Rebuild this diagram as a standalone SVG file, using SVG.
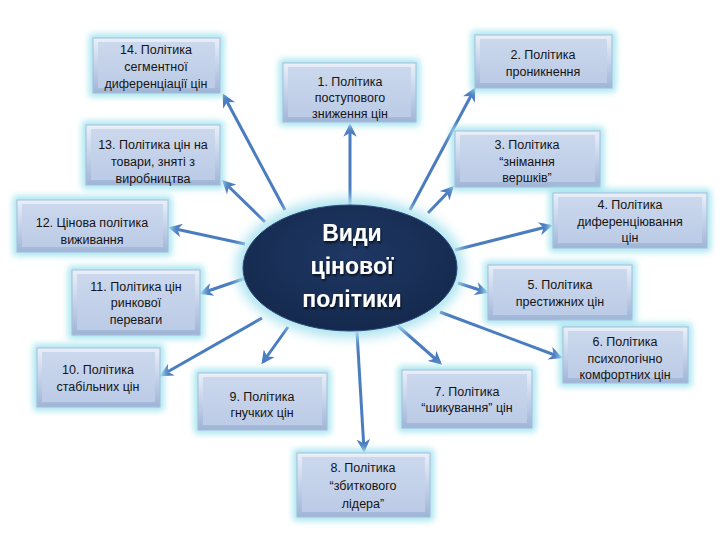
<svg xmlns="http://www.w3.org/2000/svg" width="720" height="540" viewBox="0 0 720 540">
<defs>
<style>
.glow{fill:#a8e6f0;filter:url(#blur)}
.box{fill:url(#bg);stroke:#a9bcd9;stroke-width:1}
.inner{fill:url(#ig)}
.t{font-family:"Liberation Sans","Noto Sans",sans-serif;font-size:12.5px;fill:#141414;text-anchor:middle}
.c{font-family:"Liberation Sans","Noto Sans",sans-serif;font-size:23px;font-weight:bold;fill:#ffffff;text-anchor:middle;filter:url(#ts)}
.ar{stroke:#4a7cc0;stroke-width:3;fill:none;marker-end:url(#ah)}
</style>
<filter id="blur" x="-30%" y="-30%" width="160%" height="160%"><feGaussianBlur stdDeviation="3"/></filter>
<filter id="eblur" x="-30%" y="-30%" width="160%" height="160%"><feGaussianBlur stdDeviation="6"/></filter>
<filter id="ts" x="-20%" y="-20%" width="140%" height="160%"><feDropShadow dx="1" dy="2" stdDeviation="1" flood-color="#000000" flood-opacity="0.7"/></filter>
<linearGradient id="bg" x1="0" y1="0" x2="0" y2="1"><stop offset="0" stop-color="#eaf0f8"/><stop offset="0.5" stop-color="#c4d3ea"/><stop offset="1" stop-color="#9fb4d6"/></linearGradient>
<linearGradient id="ig" x1="0" y1="0" x2="0" y2="1"><stop offset="0" stop-color="#cbd8ed"/><stop offset="1" stop-color="#bccbe6"/></linearGradient>
<radialGradient id="eg" cx="0.5" cy="0.4" r="0.6"><stop offset="0" stop-color="#1e3864"/><stop offset="1" stop-color="#15294d"/></radialGradient>
<marker id="ah" viewBox="0 0 10 10" refX="8" refY="5" markerWidth="4.5" markerHeight="4.5" orient="auto" markerUnits="strokeWidth"><path d="M0,0 L10,5 L0,10 L3,5 z" fill="#4a7cc0"/></marker>
</defs>
<rect width="720" height="540" fill="#ffffff"/>

<g id="connectors">
<line class="ar" x1="285" y1="210" x2="224" y2="96"/>
<line class="ar" x1="350" y1="205" x2="350" y2="126"/>
<line class="ar" x1="410" y1="210" x2="474" y2="90"/>
<line class="ar" x1="265" y1="222" x2="224" y2="182"/>
<line class="ar" x1="428" y1="213" x2="452" y2="188"/>
<line class="ar" x1="455" y1="250" x2="550" y2="226"/>
<line class="ar" x1="245" y1="244" x2="171" y2="228"/>
<line class="ar" x1="458" y1="283" x2="486" y2="292"/>
<line class="ar" x1="246" y1="278" x2="202" y2="293"/>
<line class="ar" x1="440" y1="312" x2="560" y2="357"/>
<line class="ar" x1="262" y1="318" x2="162" y2="375"/>
<line class="ar" x1="288" y1="327" x2="263" y2="362"/>
<line class="ar" x1="398" y1="326" x2="440" y2="363"/>
<line class="ar" x1="357" y1="332" x2="364" y2="450"/>
</g>

<g id="center">
<ellipse cx="350" cy="268" rx="114" ry="70" fill="#aee4f0" filter="url(#eblur)"/>
<ellipse cx="350" cy="268" rx="107" ry="63" fill="url(#eg)" stroke="#2a4a7a" stroke-width="1"/>
<text class="c" x="352" y="241">Види</text>
<text class="c" x="352" y="274">цінової</text>
<text class="c" x="352" y="307">політики</text>
</g>

<g id="n14">
<rect class="glow" x="89" y="34" width="135" height="63" rx="3"/>
<rect class="box" x="93" y="38" width="127" height="55"/>
<rect class="inner" x="98" y="42" width="117" height="46"/>
<text class="t" x="156" y="54">14. Політика</text>
<text class="t" x="156" y="71">сегментної</text>
<text class="t" x="156" y="88">диференціації цін</text>
</g>

<g id="n1">
<rect class="glow" x="279" y="59" width="141" height="67" rx="3"/>
<rect class="box" x="283" y="63" width="133" height="59"/>
<rect class="inner" x="288" y="67" width="123" height="50"/>
<text class="t" x="350" y="86">1. Політика</text>
<text class="t" x="350" y="102">поступового</text>
<text class="t" x="350" y="118">зниження цін</text>
</g>

<g id="n2">
<rect class="glow" x="471" y="31" width="145" height="61" rx="3"/>
<rect class="box" x="475" y="35" width="137" height="53"/>
<rect class="inner" x="480" y="39" width="127" height="44"/>
<text class="t" x="543" y="59">2. Політика</text>
<text class="t" x="543" y="76">проникнення</text>
</g>

<g id="n13">
<rect class="glow" x="82" y="121" width="142" height="68" rx="3"/>
<rect class="box" x="86" y="125" width="134" height="60"/>
<rect class="inner" x="91" y="129" width="124" height="51"/>
<text class="t" x="153" y="149">13. Політика цін на</text>
<text class="t" x="153" y="166">товари, зняті з</text>
<text class="t" x="153" y="183">виробництва</text>
</g>

<g id="n3">
<rect class="glow" x="451" y="127" width="153" height="64" rx="3"/>
<rect class="box" x="455" y="131" width="145" height="56"/>
<rect class="inner" x="460" y="135" width="135" height="47"/>
<text class="t" x="527" y="149">3. Політика</text>
<text class="t" x="527" y="166">“знімання</text>
<text class="t" x="527" y="182">вершків”</text>
</g>

<g id="n4">
<rect class="glow" x="549" y="189" width="162" height="63" rx="3"/>
<rect class="box" x="553" y="193" width="154" height="55"/>
<rect class="inner" x="558" y="197" width="144" height="46"/>
<text class="t" x="630" y="209">4. Політика</text>
<text class="t" x="630" y="226">диференціювання</text>
<text class="t" x="630" y="242">цін</text>
</g>

<g id="n12">
<rect class="glow" x="13" y="196" width="159" height="60" rx="3"/>
<rect class="box" x="17" y="200" width="151" height="52"/>
<rect class="inner" x="22" y="204" width="141" height="43"/>
<text class="t" x="92" y="227">12. Цінова політика</text>
<text class="t" x="92" y="244">виживання</text>
</g>

<g id="n5">
<rect class="glow" x="484" y="261" width="152" height="63" rx="3"/>
<rect class="box" x="488" y="265" width="144" height="55"/>
<rect class="inner" x="493" y="269" width="134" height="46"/>
<text class="t" x="560" y="289">5. Політика</text>
<text class="t" x="560" y="306">престижних цін</text>
</g>

<g id="n11">
<rect class="glow" x="68" y="266" width="136" height="73" rx="3"/>
<rect class="box" x="72" y="270" width="128" height="65"/>
<rect class="inner" x="77" y="274" width="118" height="56"/>
<text class="t" x="136" y="291">11. Політика цін</text>
<text class="t" x="136" y="307">ринкової</text>
<text class="t" x="136" y="324">переваги</text>
</g>

<g id="n10">
<rect class="glow" x="33" y="344" width="131" height="67" rx="3"/>
<rect class="box" x="37" y="348" width="123" height="59"/>
<rect class="inner" x="42" y="352" width="113" height="50"/>
<text class="t" x="98" y="374">10. Політика</text>
<text class="t" x="98" y="391">стабільних цін</text>
</g>

<g id="n6">
<rect class="glow" x="559" y="323" width="133" height="64" rx="3"/>
<rect class="box" x="563" y="327" width="125" height="56"/>
<rect class="inner" x="568" y="331" width="115" height="47"/>
<text class="t" x="625" y="346">6. Політика</text>
<text class="t" x="625" y="363">психологічно</text>
<text class="t" x="625" y="379">комфортних цін</text>
</g>

<g id="n9">
<rect class="glow" x="194" y="369" width="137" height="65" rx="3"/>
<rect class="box" x="198" y="373" width="129" height="57"/>
<rect class="inner" x="203" y="377" width="119" height="48"/>
<text class="t" x="262" y="401">9. Політика</text>
<text class="t" x="262" y="417">гнучких цін</text>
</g>

<g id="n7">
<rect class="glow" x="398" y="366" width="138" height="66" rx="3"/>
<rect class="box" x="402" y="370" width="130" height="58"/>
<rect class="inner" x="407" y="374" width="120" height="49"/>
<text class="t" x="467" y="396">7. Політика</text>
<text class="t" x="467" y="412">“шикування” цін</text>
</g>

<g id="n8">
<rect class="glow" x="293" y="449" width="141" height="72" rx="3"/>
<rect class="box" x="297" y="453" width="133" height="64"/>
<rect class="inner" x="302" y="457" width="123" height="55"/>
<text class="t" x="363" y="472">8. Політика</text>
<text class="t" x="363" y="490">“збиткового</text>
<text class="t" x="363" y="508">лідера”</text>
</g>
</svg>
